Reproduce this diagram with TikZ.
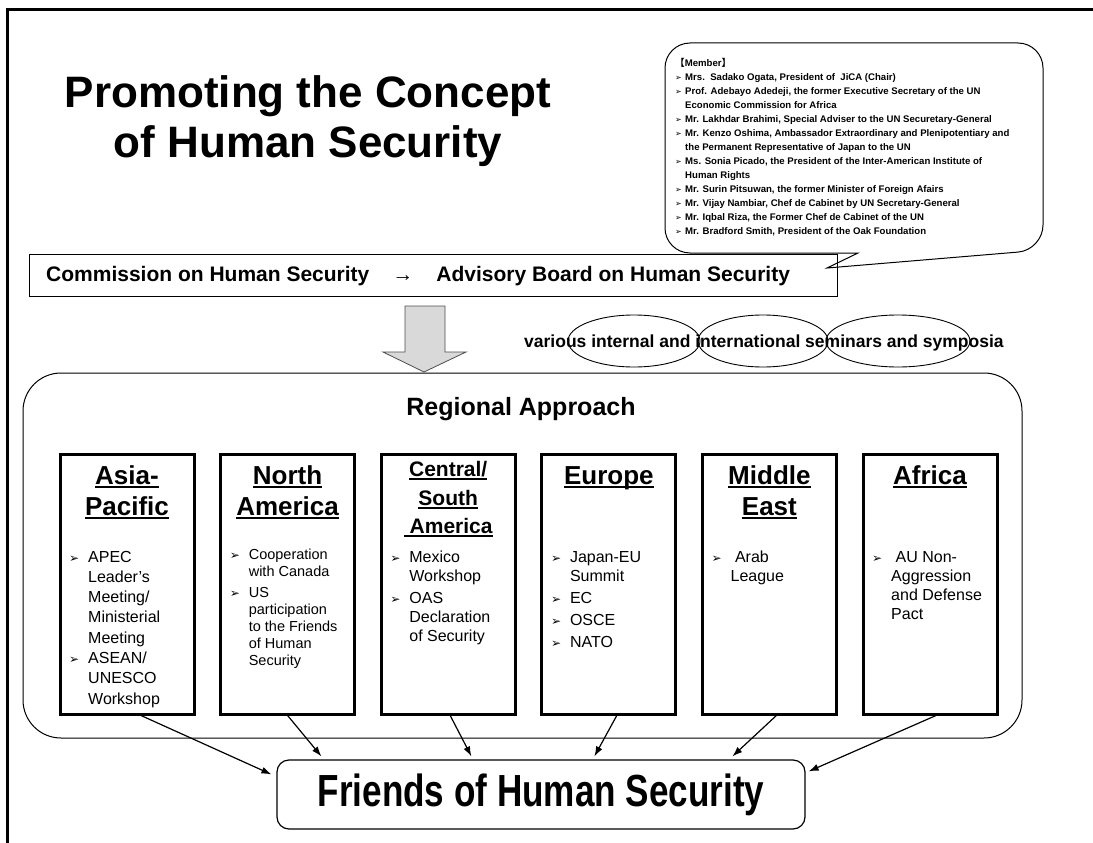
\documentclass[tikz,border=0pt]{standalone}
\usepackage{fontspec}
\setmainfont{Liberation Sans}
\newfontfamily\dejavu{DejaVu Sans}
\newfontfamily\cjk{Noto Sans CJK JP}
\usetikzlibrary{arrows.meta,positioning}

\newlength{\ulw}
\newcommand{\ul}[1]{\settowidth{\ulw}{#1}\rlap{\rule[-3.5pt]{\ulw}{1.6pt}}#1}
\newcommand{\bul}{\makebox[19pt][l]{\dejavu\fontsize{12}{12}\selectfont ➢}}
\newcommand{\ind}{\hspace*{19pt}}
\newcommand{\mbul}{\makebox[10pt][l]{\dejavu\fontsize{8}{8}\selectfont ➢}}
\newcommand{\mind}{\hspace*{10pt}}

\tikzset{
  region/.style={draw, line width=3pt, minimum width=134pt, minimum height=260pt,
    anchor=north west, inner sep=0pt},
  head/.style={font=\fontsize{26}{31}\selectfont\bfseries, align=center, anchor=base, inner sep=0pt},
  headsm/.style={head, font=\fontsize{21}{28.5}\selectfont\bfseries},
  items/.style={font=\fontsize{16}{19}\selectfont, align=left, anchor=base west, inner sep=0pt},
  feed/.style={-{Latex[length=10pt,width=7pt]}, line width=1.2pt},
}

\begin{document}
\begin{tikzpicture}[x=1pt,y=-1pt]
\useasboundingbox (0,0) rectangle (1093,843);
% frame
\draw[line width=3pt] (1093,10) -- (7,10) -- (7,843);

% title (base = last line)
\node[font=\fontsize{44}{50}\selectfont\bfseries, align=center, anchor=base, inner sep=0pt] (title) at (308,157) {Promoting the Concept\\of Human Security};

% member callout
\draw[line width=1pt, fill=white, rounded corners=25pt] (858,253) -- (665,253) -- (665,43) -- (1043,43) -- (1043,250) [sharp corners] -- (827,268) -- cycle;
\node[font=\fontsize{9.6}{14}\selectfont\bfseries, align=left, anchor=base west, inner sep=0pt] (members) at (675,234.5) {%
{\cjk 【}Member{\cjk 】}\\
\mbul Mrs.\ \ Sadako Ogata, President of \ JiCA (Chair)\\
\mbul Prof. Adebayo Adedeji, the former Executive Secretary of the UN\\
\mind Economic Commission for Africa\\
\mbul Mr. Lakhdar Brahimi, Special Adviser to the UN Securetary-General\\
\mbul Mr. Kenzo Oshima, Ambassador Extraordinary and Plenipotentiary and\\
\mind the Permanent Representative of Japan to the UN\\
\mbul Ms. Sonia Picado, the President of the Inter-American Institute of\\
\mind Human Rights\\
\mbul Mr. Surin Pitsuwan, the former Minister of Foreign Afairs\\
\mbul Mr. Vijay Nambiar, Chef de Cabinet by UN Secretary-General\\
\mbul Mr. Iqbal Riza, the Former Chef de Cabinet of the UN\\
\mbul Mr. Bradford Smith, President of the Oak Foundation};

% commission
\node[draw, line width=1pt, minimum width=808pt, minimum height=42pt, anchor=north west] (chs) at (28.5,253.5) {};
\node[font=\fontsize{21}{21}\selectfont\bfseries, anchor=base west, inner sep=0pt] (chstxt) at (46,281) {Commission on Human Security\hspace{23pt}→\hspace{23pt}Advisory Board on Human Security};

% big arrow down
\draw[fill=gray!30, draw=black!70, line width=0.8pt] (405,306) -- (445,306) -- (445,352) -- (466,352) -- (424,372) -- (383,352) -- (405,352) -- cycle;

% seminars
\node[font=\fontsize{17.5}{20}\selectfont\bfseries, anchor=base west, inner sep=0pt] (sem) at (524,347) {various internal and international seminars and symposia};
\foreach \cx/\rx in {634/66,763/65,898/72}
  \draw[line width=0.9pt] (\cx,341) ellipse [x radius=\rx, y radius=26];

% regional approach
\draw[line width=1pt, rounded corners=38pt] (23,373) rectangle (1022,738);
\node[font=\fontsize{25}{25}\selectfont\bfseries, anchor=base, inner sep=0pt] (regtitle) at (521,415) {Regional Approach};

\foreach \reg [count=\i from 0] in {asia,namer,csam,europe,mideast,africa}
  \node[region] (\reg) at ({58.5+160.6*\i},452.5) {};

\node[head] (asiahd) at ([yshift=-62.5pt]asia.north) {\ul{Asia-}\\\ul{Pacific}};
\node[head] (namerhd) at ([yshift=-62.5pt]namer.north) {\ul{North}\\\ul{America}};
\node[headsm] (csamhd) at ([yshift=-81pt]csam.north) {\ul{Central/}\\\ul{South}\\\ul{\ America}};
\node[head] (europehd) at ([yshift=-31.5pt]europe.north) {\ul{Europe}};
\node[head] (mideasthd) at ([yshift=-62.5pt]mideast.north) {\ul{Middle}\\\ul{East}};
\node[head] (africahd) at ([yshift=-31.5pt]africa.north) {\ul{Africa}};

\node[items, font=\fontsize{16}{20.3}\selectfont] (asiait) at ([xshift=10.5pt,yshift=-251.6pt]asia.north west)
  {\bul APEC\\\ind Leader's\\\ind Meeting/\\\ind Ministerial\\\ind Meeting\\\bul ASEAN/\\\ind UNESCO\\\ind Workshop};
\node[items, font=\fontsize{14.5}{17}\selectfont] (namerit) at ([xshift=10.5pt,yshift=-212.5pt]namer.north west)
  {\bul Cooperation\\\ind with Canada\\[4pt]\bul US\\\ind participation\\\ind to the Friends\\\ind of Human\\\ind Security};
\node[items] (csamit) at ([xshift=10.5pt,yshift=-188.5pt]csam.north west)
  {\bul Mexico\\\ind Workshop\\[3pt]\bul OAS\\\ind Declaration\\\ind of Security};
\node[items] (europeit) at ([xshift=10.5pt,yshift=-194.5pt]europe.north west)
  {\bul Japan-EU\\\ind Summit\\[3pt]\bul EC\\[3pt]\bul OSCE\\[3pt]\bul NATO};
\node[items] (mideastit) at ([xshift=10.5pt,yshift=-128.5pt]mideast.north west)
  {\bul\ Arab\\\ind League};
\node[items] (africait) at ([xshift=10.5pt,yshift=-166.5pt]africa.north west)
  {\bul\ AU Non-\\\ind Aggression\\\ind and Defense\\\ind Pact};

% friends
\node[draw, line width=1.2pt, rounded corners=12pt, minimum width=528pt, minimum height=69pt] (friends) at (541,794.5)
  {\fontsize{45}{45}\selectfont\bfseries\scalebox{0.78}[1]{Friends of Human Security}};

\draw[feed] ([xshift=14pt]asia.south) -- ([xshift=-5pt,yshift=-15pt]friends.north west);
\draw[feed] (namer.south) -- ([xshift=45pt,yshift=3pt]friends.north west);
\draw[feed] ([xshift=2pt]csam.south) -- ([xshift=195pt,yshift=3pt]friends.north west);
\draw[feed] ([xshift=8pt]europe.south) -- ([xshift=318pt,yshift=3pt]friends.north west);
\draw[feed] ([xshift=7pt]mideast.south) -- ([xshift=456pt,yshift=3pt]friends.north west);
\draw[feed] ([xshift=6pt]africa.south) -- ([xshift=3pt,yshift=-12pt]friends.north east);
\end{tikzpicture}
\end{document}
